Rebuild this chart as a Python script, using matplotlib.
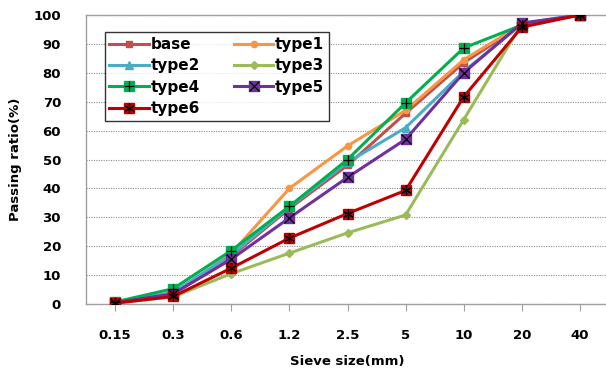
import numpy as np
import matplotlib.pyplot as plt
from matplotlib.legend_handler import HandlerTuple

# Sieve sizes (category axis) and passing ratio per mix
sieve = ['0.15', '0.3', '0.6', '1.2', '2.5', '5', '10', '20', '40']
base  = [0.5, 3.5, 16.5, 33.0, 48.0, 66.0, 83.5, 96.5, 100]
type1 = [0.5, 3.5, 17.5, 40.0, 54.7, 67.0, 84.5, 96.8, 100]
type2 = [0.5, 4.0, 17.0, 33.5, 49.0, 61.0, 80.5, 96.8, 100]
type3 = [0.3, 2.5, 10.5, 17.6, 24.6, 30.8, 63.8, 97.0, 100]
type4 = [0.7, 5.3, 18.5, 33.8, 50.0, 69.6, 88.6, 96.5, 100]
type5 = [0.5, 3.5, 15.5, 29.8, 43.8, 57.0, 80.0, 97.2, 100]
type6 = [0.3, 2.6, 12.4, 22.8, 31.3, 39.3, 71.7, 95.8, 100]

names = ['base', 'type1', 'type2', 'type3', 'type4', 'type5', 'type6']
series = [base, type1, type2, type3, type4, type5, type6]
colors = ['#C0504D', '#F79646', '#4BACC6', '#9BBB59', '#00B050', '#7030A0', '#C00000']
markers = ['s', 'o', '^', 'D', 's', 's', 's']
msizes = [5, 4.5, 6, 4, 7, 7.5, 7.5]
overlay = [None, None, None, None, '+', 'x', (6, 2, 0)]

plt.rcParams['font.family'] = ['DejaVu Sans']
fig = plt.figure(figsize=(6.06, 3.76), dpi=100)
ax = fig.add_axes([86/606, 72/376, 523/606, 289/376])

x = np.arange(len(sieve))
handles = []
for ys, nm, c, m, ms, ov in zip(series, names, colors, markers, msizes, overlay):
    ln, = ax.plot(x, ys, color=c, lw=2.2, marker=m, ms=ms, mfc=c, mec=c, zorder=3)
    if ov is not None:
        o, = ax.plot(x, ys, ls='none', marker=ov, ms=ms, mec='black', mew=0.9, zorder=4)
        handles.append((ln, o))
    else:
        handles.append(ln)

ax.set_xlim(-0.5, 8.5)
ax.set_ylim(0, 100)
ax.set_yticks(range(0, 101, 10))
ax.set_xticks(x)
ax.set_xticklabels(sieve)
ax.yaxis.grid(True, ls=(0, (1, 1.2)), color='#8c8c8c', lw=0.8)
ax.set_axisbelow(True)

ax.spines['right'].set_visible(False)
for s in ['left', 'bottom', 'top']:
    ax.spines[s].set_color('#a0a0a0')
    ax.spines[s].set_linewidth(1)

ax.tick_params(axis='y', length=0, pad=18, labelsize=9.5)
ax.tick_params(axis='x', length=5, color='#a0a0a0', pad=13, labelsize=9.5)
for lab in ax.get_xticklabels() + ax.get_yticklabels():
    lab.set_fontweight('bold')

ax.set_xlabel('Sieve size(mm)', fontsize=9.5, fontweight='bold', labelpad=9)
ax.set_ylabel('Passing ratio(%)', fontsize=9.5, fontweight='bold', labelpad=8)

# legend filled row by row like the original
order = [0, 2, 4, 6, 1, 3, 5]
leg = ax.legend([handles[i] for i in order], [names[i] for i in order], ncol=2,
                loc='upper left', bbox_to_anchor=(0.036, 0.94),
                handler_map={tuple: HandlerTuple(ndivide=1, pad=0)},
                prop={'weight': 'bold', 'size': 11}, frameon=True, fancybox=False,
                edgecolor='black', handlelength=2.6, handletextpad=0.1,
                columnspacing=2.2, labelspacing=0.42, borderpad=0.3, borderaxespad=0)
leg.get_frame().set_linewidth(1)

fig.savefig('out.png', dpi=100)
